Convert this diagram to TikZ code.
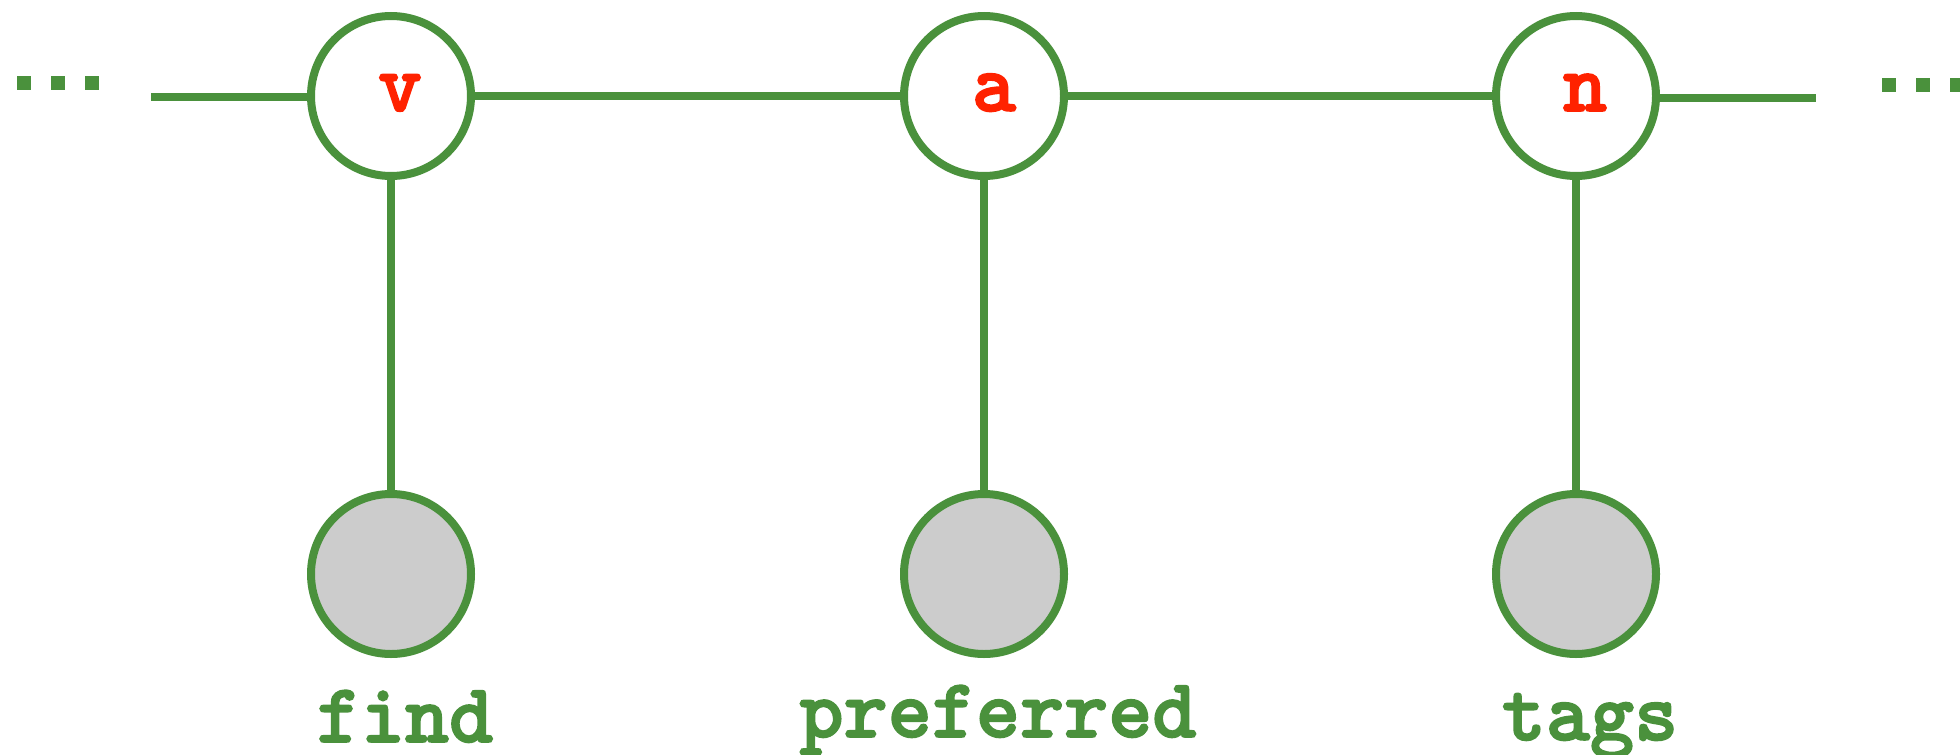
\documentclass[tikz,border=0pt]{standalone}
\usepackage{fontspec}
\newfontfamily\codefont[FakeBold=2]{lmmonolt10-bold.otf}
\definecolor{gr}{HTML}{4A913C}
\definecolor{rd}{HTML}{FF2200}
\definecolor{gy}{HTML}{CCCCCC}
\begin{document}
\begin{tikzpicture}[x=1pt,y=-1pt,
  conn/.style={draw=gr,line width=8pt},
  topc/.style={circle,draw=gr,line width=8pt,fill=white,minimum size=160pt,inner sep=0pt},
  botc/.style={circle,draw=gr,line width=8pt,fill=gy,minimum size=160pt,inner sep=0pt},
  toplet/.style={anchor=base,text=rd,font=\codefont\fontsize{84}{84}\selectfont,inner sep=0pt},
  word/.style={anchor=base,text=gr,font=\codefont\fontsize{84}{84}\selectfont,inner sep=0pt},
  sq/.style={fill=gr}]
\useasboundingbox (0,0) rectangle (1960,755);
% dots
\fill[sq] (17,76) rectangle (31,90);
\fill[sq] (51,76) rectangle (65,90);
\fill[sq] (85,76) rectangle (99,90);
\fill[sq] (1882,78) rectangle (1896,92);
\fill[sq] (1916,78) rectangle (1930,92);
\fill[sq] (1950,78) rectangle (1964,92);
% nodes
\node[topc] (v) at (391,96) {};
\node[topc] (a) at (984,96) {};
\node[topc] (n) at (1576,96) {};
\node[botc] (w1) at (391,574) {};
\node[botc] (w2) at (984,574) {};
\node[botc] (w3) at (1576,574) {};
\coordinate (lend) at (151,97);
\coordinate (rend) at (1816,98);
% connectors
\draw[conn] (lend) -- (v.west |- lend);
\draw[conn] (v) -- (a);
\draw[conn] (a) -- (n);
\draw[conn] (n.east |- rend) -- (rend);
\draw[conn] (v) -- (w1);
\draw[conn] (a) -- (w2);
\draw[conn] (n) -- (w3);
% texts
\node[toplet] (vl) at (400,111) {v};
\node[toplet] (al) at (994,111) {a};
\node[toplet] (nl) at (1585,111) {n};
\node[word] (find) at (405,742) {find};
\node[word] (pref) at (998,737) {preferred};
\node[word] (tags) at (1590,740) {tags};
\end{tikzpicture}
\end{document}
